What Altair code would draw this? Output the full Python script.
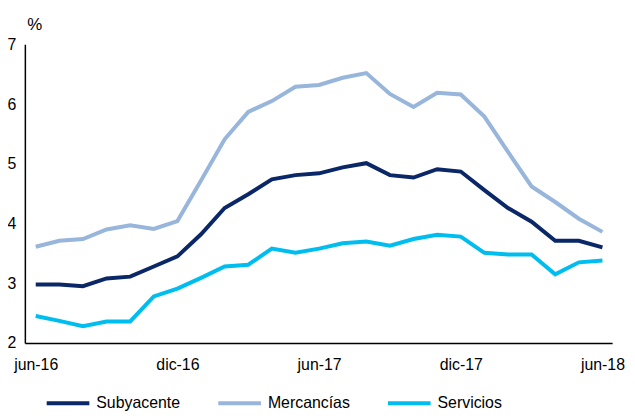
import json
import altair as alt
import pandas as pd

months = ["jun-16", "jul-16", "ago-16", "sep-16", "oct-16", "nov-16", "dic-16",
          "ene-17", "feb-17", "mar-17", "abr-17", "may-17", "jun-17", "jul-17",
          "ago-17", "sep-17", "oct-17", "nov-17", "dic-17", "ene-18", "feb-18",
          "mar-18", "abr-18", "may-18", "jun-18"]

subyacente = [2.98, 2.98, 2.95, 3.08, 3.11, 3.28, 3.45, 3.82, 4.26, 4.49, 4.74, 4.81, 4.84,
              4.94, 5.01, 4.81, 4.77, 4.91, 4.87, 4.56, 4.26, 4.03, 3.71, 3.71, 3.60]
mercancias = [3.61, 3.71, 3.74, 3.90, 3.97, 3.91, 4.04, 4.72, 5.41, 5.87, 6.05, 6.29, 6.32,
              6.44, 6.52, 6.17, 5.95, 6.19, 6.16, 5.79, 5.20, 4.62, 4.36, 4.08, 3.86]
servicios = [2.45, 2.37, 2.28, 2.36, 2.36, 2.78, 2.91, 3.09, 3.28, 3.31, 3.58, 3.51, 3.58,
             3.67, 3.70, 3.63, 3.74, 3.81, 3.78, 3.51, 3.48, 3.48, 3.15, 3.35, 3.38]

series_names = ["Subyacente", "Mercancías", "Servicios"]
series_colors = ["#0a2767", "#98b5db", "#00bdf0"]
tick_idx = [0, 6, 12, 18, 24]
y_ticks = [2, 3, 4, 5, 6, 7]

rows = []
for name, vals in zip(series_names, [subyacente, mercancias, servicios]):
    for i, v in enumerate(vals):
        rows.append({"idx": i, "mes": months[i], "serie": name, "valor": v})
df = pd.DataFrame(rows)

FONT = "Liberation Sans Narrow, Arial Narrow, Liberation Sans, Arial, sans-serif"

chart = alt.Chart(df).mark_line(strokeWidth=4, strokeCap="butt", strokeJoin="miter").encode(
    x=alt.X("idx:Q",
            scale=alt.Scale(domain=[-0.46, 24.41], nice=False, zero=False),
            axis=alt.Axis(values=tick_idx, title=None, grid=False, ticks=False,
                          labelExpr=json.dumps(months) + "[datum.value]",
                          labelPadding=14, labelFontSize=16, labelFont=FONT,
                          labelColor="#000000", domainColor="#000000", domainWidth=1.5,
                          labelFlush=False)),
    y=alt.Y("valor:Q",
            scale=alt.Scale(domain=[2, 7], nice=False, zero=False),
            axis=alt.Axis(values=y_ticks, format="d", grid=False, ticks=False,
                          labelPadding=9, labelFontSize=16, labelFont=FONT,
                          labelColor="#000000", domainColor="#000000", domainWidth=1.5,
                          title="%", titleAngle=0, titleX=2, titleY=-15,
                          titleAlign="left", titleBaseline="alphabetic",
                          titleFontSize=17, titleFont=FONT, titleFontWeight="normal",
                          titleColor="#000000")),
    color=alt.Color("serie:N",
                    scale=alt.Scale(domain=series_names, range=series_colors),
                    sort=series_names,
                    legend=alt.Legend(title=None, orient="none", direction="horizontal",
                                      legendX=20, legendY=338, columns=3,
                                      columnPadding=30, symbolType="stroke",
                                      symbolSize=1849, symbolStrokeWidth=4,
                                      labelFontSize=16, labelFont=FONT,
                                      labelColor="#000000", labelOffset=5)),
    detail="serie:N",
).properties(
    width=592, height=301,
    padding={"left": 17, "top": 35, "right": 15, "bottom": 72},
    autosize=alt.AutoSizeParams(type="none"),
).configure_view(stroke=None)

chart.save("out.html", embed_options={"renderer": "svg", "actions": False})
